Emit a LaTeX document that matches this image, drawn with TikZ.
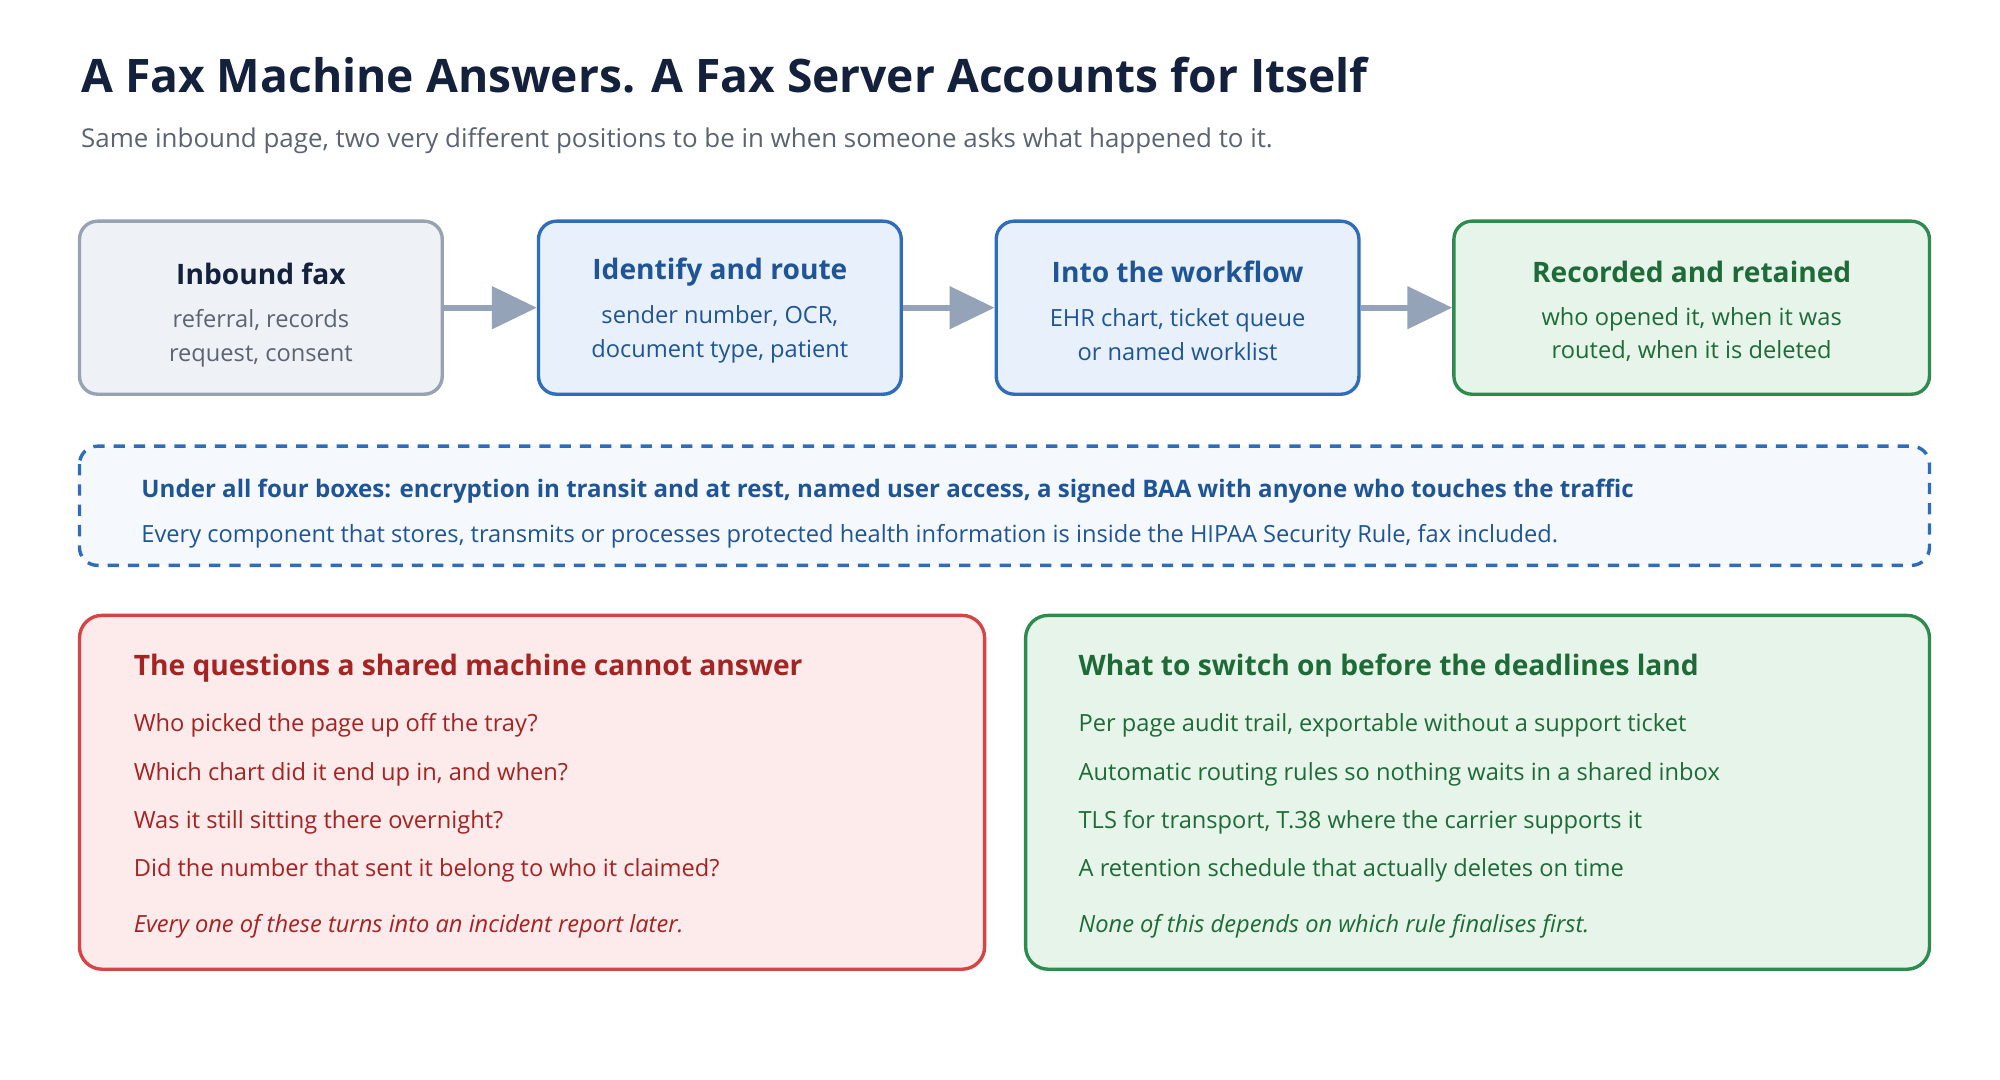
\documentclass[tikz,border=0pt]{standalone}
\usepackage{fontspec}
\setmainfont{Open Sans}
\usepackage{xcolor}
\usetikzlibrary{calc,arrows.meta,positioning}
\definecolor{ink}{HTML}{14213D}
\definecolor{subgray}{HTML}{5B6472}
\definecolor{graybd}{HTML}{98A2B3}
\definecolor{grayfill}{HTML}{EEF1F6}
\definecolor{bluebd}{HTML}{2F6DBB}
\definecolor{bluefill}{HTML}{E8F0FB}
\definecolor{bluetxt}{HTML}{1F5596}
\definecolor{greenbd}{HTML}{2E8B4E}
\definecolor{greenfill}{HTML}{E6F4EA}
\definecolor{greentxt}{HTML}{1E6B38}
\definecolor{redbd}{HTML}{D64545}
\definecolor{redfill}{HTML}{FDEAEA}
\definecolor{redtxt}{HTML}{A42323}
\definecolor{arrowgray}{HTML}{94A3B8}
\tikzset{
  stepbox/.style={draw, line width=1.5pt, rounded corners=8pt, minimum width=5.66cm, minimum height=2.7cm, align=center, inner sep=0pt},
  flow/.style={draw=arrowgray, line width=2.6pt, -{Triangle[length=0.7cm,width=0.65cm]}},
  head/.style={font=\fontsize{12.5}{16}\selectfont\bfseries},
  sub/.style={align=center, font=\fontsize{10.5}{15}\selectfont},
  line/.style={anchor=base west, inner sep=0pt, font=\fontsize{10.5}{14}\selectfont},
}
\begin{document}
\begin{tikzpicture}[x=0.02cm,y=-0.02cm]
    \useasboundingbox[fill=white] (0,0) rectangle (1560,842);

    %TITLE
    \node[anchor=base west, inner sep=0pt, text=ink, font=\fontsize{20.5}{24}\selectfont\bfseries] (title) at (63,72) {A Fax Machine Answers. A Fax Server Accounts for Itself};
    \node[anchor=base west, inner sep=0pt, text=subgray, font=\fontsize{11.5}{14}\selectfont] (subtitle) at (63,115) {Same inbound page, two very different positions to be in when someone asks what happened to it.};

    %STEPS
    \node[stepbox, draw=graybd, fill=grayfill] (inbound) at (203.5,240) {};
    \node[head, text=ink] at (203.5,214) {Inbound fax};
    \node[sub, text=subgray] at (203.5,264) {referral, records\\request, consent};

    \node[stepbox, draw=bluebd, fill=bluefill] (identify) at (561.5,240) {};
    \node[head, text=bluetxt] at (561.5,212) {Identify and route};
    \node[sub, text=bluetxt] at (561.5,261) {sender number, OCR,\\document type, patient};

    \node[stepbox, draw=bluebd, fill=bluefill] (workflow) at (918.5,240) {};
    \node[head, text=bluetxt] at (918.5,212) {Into the workflow};
    \node[sub, text=bluetxt] at (918.5,261) {EHR chart, ticket queue\\or named worklist};

    \node[stepbox, draw=greenbd, fill=greenfill, minimum width=7.42cm] (recorded) at (1319.5,240) {};
    \node[head, text=greentxt] at (1319.5,212) {Recorded and retained};
    \node[sub, text=greentxt] at (1319.5,261) {who opened it, when it was\\routed, when it is deleted};

    \draw[flow] (inbound) -- (identify);
    \draw[flow] (identify) -- (workflow);
    \draw[flow] (workflow) -- (recorded);

    %UNDERLAY
    \draw[bluebd, fill=bluefill!45, line width=1.5pt, dash pattern=on 5pt off 4pt, rounded corners=8pt] (62,348) rectangle (1505,441);
    \node[line, text=bluetxt, font=\fontsize{10.7}{14}\selectfont\bfseries] (under) at (110,388) {Under all four boxes: encryption in transit and at rest, named user access, a signed BAA with anyone who touches the traffic};
    \node[line, text=bluetxt] (scope) at (110,423) {Every component that stores, transmits or processes protected health information is inside the HIPAA Security Rule, fax included.};

    %BOTTOM LEFT
    \draw[redbd, fill=redfill, line width=1.5pt, rounded corners=10pt] (62,480) rectangle (768,756);
    \node[line, text=redtxt, font=\fontsize{12.5}{16}\selectfont\bfseries] (qhead) at (104,527) {The questions a shared machine cannot answer};
    \foreach \t [count=\i] in {Who picked the page up off the tray?, {Which chart did it end up in, and when?}, Was it still sitting there overnight?, Did the number that sent it belong to who it claimed?}
        \node[line, text=redtxt] at (104,533+37.7*\i) {\t};
    \node[line, text=redtxt, font=\fontsize{10.5}{14}\selectfont\itshape] (qnote) at (104,727) {Every one of these turns into an incident report later.};

    %BOTTOM RIGHT
    \draw[greenbd, fill=greenfill, line width=1.5pt, rounded corners=10pt] (800,480) rectangle (1505,756);
    \node[line, text=greentxt, font=\fontsize{12.5}{16}\selectfont\bfseries] (shead) at (841,527) {What to switch on before the deadlines land};
    \foreach \t [count=\i] in {{Per page audit trail, exportable without a support ticket}, Automatic routing rules so nothing waits in a shared inbox, {TLS for transport, T.38 where the carrier supports it}, A retention schedule that actually deletes on time}
        \node[line, text=greentxt] at (841,533+37.7*\i) {\t};
    \node[line, text=greentxt, font=\fontsize{10.5}{14}\selectfont\itshape] (snote) at (841,727) {None of this depends on which rule finalises first.};
\end{tikzpicture}
\end{document}
